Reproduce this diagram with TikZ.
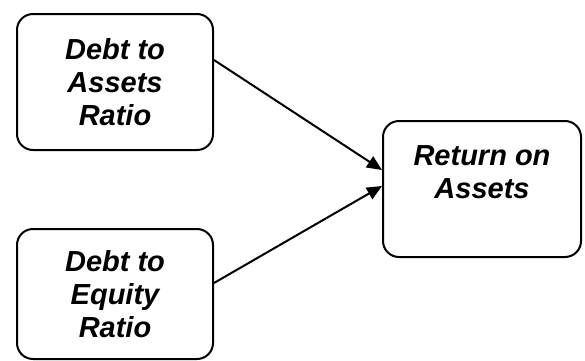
\documentclass[tikz,border=0pt]{standalone}
\usepackage{fontspec}
\setmainfont{Liberation Sans}
\usetikzlibrary{arrows.meta}
\begin{document}
\begin{tikzpicture}[x=1pt,y=1pt,
  box/.style={draw, line width=2pt, rounded corners=16pt, align=center,
    inner sep=0pt, font=\fontsize{29}{33}\selectfont\bfseries\itshape},
  arr/.style={line width=2pt, -{Triangle[length=15pt,width=13pt]}}]
\useasboundingbox (0,0) rectangle (585,360);
\node[box, minimum width=196pt, minimum height=136pt] (a) at (115,278) {Debt to\\Assets\\Ratio};
\node[box, minimum width=196pt, minimum height=130pt] (b) at (115,66) {Debt to\\Equity\\Ratio};
\node[box, minimum width=198pt, minimum height=136pt] (c) at (482,171) {Return on\\Assets\\\phantom{A}};
\draw[arr] ([yshift=22pt]a.east) -- ([yshift=19pt]c.west);
\draw[arr] ([yshift=11pt]b.east) -- ([yshift=3pt]c.west);
\end{tikzpicture}
\end{document}
